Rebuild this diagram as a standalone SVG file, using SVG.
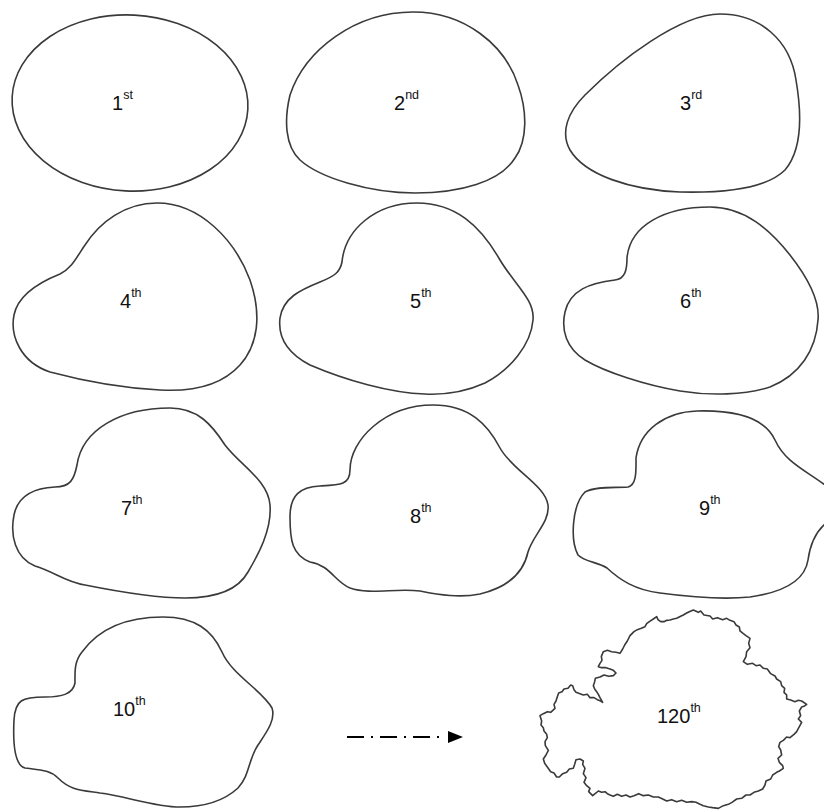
<svg xmlns="http://www.w3.org/2000/svg" width="824" height="811" viewBox="0 0 824 811">
  <style>
    .outline { fill: none; stroke: #3a3a3a; stroke-width: 1.6; stroke-linejoin: round; }
    .lbl { font-family: "Liberation Sans", "Open Sans", sans-serif; font-size: 20px; fill: #111; }
    .sup { font-size: 12.5px; }
    .flow { fill: none; stroke: #000; stroke-width: 2; stroke-dasharray: 17 7 2 7; }
  </style>
  <defs>
    <marker id="head" viewBox="0 0 10 10" refX="0" refY="5" markerWidth="15" markerHeight="12" markerUnits="userSpaceOnUse" orient="auto">
      <path d="M0,0 L10,5 L0,10 Z" fill="#000"/>
    </marker>
  </defs>
  <rect width="824" height="811" fill="#fff"/>

  <!-- iteration 1 -->
  <g id="n1">
    <ellipse class="outline" cx="130" cy="103" rx="118" ry="88" transform="rotate(3 130 103)"/>
    <text class="lbl" x="112" y="110">1<tspan class="sup" dy="-11">st</tspan></text>
  </g>

  <!-- iteration 2 -->
  <g id="n2">
    <path class="outline" d="M413,12 C465,12 505,45 518,85 C527,110 528,140 515,158 C500,182 460,193 415,193 C370,193 320,178 300,160 C285,146 284,120 290,95 C305,50 355,12 413,12 Z"/>
    <text class="lbl" x="394" y="110">2<tspan class="sup" dy="-11">nd</tspan></text>
  </g>

  <!-- iteration 3 -->
  <g id="n3">
    <path class="outline" d="M720,14 C760,14 790,40 796,80 C802,115 802,150 785,170 C765,190 720,193 680,192 C630,190 585,175 570,150 C560,132 568,112 585,95 C620,60 680,14 720,14 Z"/>
    <text class="lbl" x="680" y="110">3<tspan class="sup" dy="-11">rd</tspan></text>
  </g>

  <!-- iteration 4 -->
  <g id="n4">
    <path class="outline" d="M157,203 C200,203 235,240 250,280 C262,315 258,345 240,365 C222,385 195,392 160,390 C120,388 80,380 50,372 C20,362 10,335 14,315 C18,295 40,282 60,274 C72,268 76,258 85,245 C100,222 125,203 157,203 Z"/>
    <text class="lbl" x="120" y="308">4<tspan class="sup" dy="-11">th</tspan></text>
  </g>

  <!-- iteration 5 -->
  <g id="n5">
    <path class="outline" d="M417,203 C455,203 480,225 500,260 C515,285 535,300 533,320 C531,345 510,370 485,383 C465,392 445,395 425,394 C390,393 345,380 310,365 C285,352 278,335 280,318 C283,298 300,290 320,282 C335,276 340,272 342,262 C345,230 375,203 417,203 Z"/>
    <text class="lbl" x="410" y="308">5<tspan class="sup" dy="-11">th</tspan></text>
  </g>

  <!-- iteration 6 -->
  <g id="n6">
    <path class="outline" d="M710,207 C745,207 770,230 790,255 C808,278 820,300 818,320 C816,350 800,375 770,387 C745,395 710,396 680,391 C645,385 605,372 585,360 C566,348 561,330 565,312 C570,290 590,283 615,280 C625,279 627,270 627,258 C630,225 665,207 710,207 Z"/>
    <text class="lbl" x="680" y="308">6<tspan class="sup" dy="-11">th</tspan></text>
  </g>

  <!-- iteration 7 -->
  <g id="n7">
    <path class="outline" d="M170,408 C198,408 212,425 225,445 C240,465 268,480 270,505 C272,530 258,555 248,572 C238,590 215,598 185,598 C150,598 110,590 85,585 C65,582 55,572 35,566 C15,558 10,535 14,515 C18,495 35,488 55,487 C70,487 74,480 77,465 C82,430 120,408 170,408 Z"/>
    <text class="lbl" x="121" y="515">7<tspan class="sup" dy="-11">th</tspan></text>
  </g>

  <!-- iteration 8 -->
  <g id="n8">
    <path class="outline" d="M433,405 C470,405 488,425 500,448 C512,470 545,485 548,505 C550,522 533,535 528,552 C523,575 505,588 480,594 C460,598 440,595 420,591 C395,588 370,595 350,588 C335,582 330,565 310,562 C292,555 290,540 290,517 C290,495 300,487 320,486 C340,485 350,485 350,470 C350,440 385,405 433,405 Z"/>
    <text class="lbl" x="410" y="523">8<tspan class="sup" dy="-11">th</tspan></text>
  </g>

  <!-- iteration 9 (runs past the right edge) -->
  <g id="n9">
    <path class="outline" d="M697,411 C735,410 765,418 775,440 C785,462 805,470 825,485 L840,500 L830,520 C815,530 810,545 808,560 C805,580 785,592 750,597 C720,600 690,597 660,593 C635,590 620,580 607,568 C598,562 585,562 578,555 C570,540 572,505 585,492 C595,486 615,488 628,487 C637,485 636,470 636,458 C640,430 665,412 697,411 Z"/>
    <text class="lbl" x="699" y="515">9<tspan class="sup" dy="-11">th</tspan></text>
  </g>

  <!-- iteration 10 -->
  <g id="n10">
    <path class="outline" d="M163,617 C195,617 212,630 222,652 C232,675 262,690 272,708 C276,720 266,733 258,745 C248,760 250,775 238,788 C225,800 205,807 180,807 C155,807 125,796 100,793 C80,790 70,790 58,778 C50,770 40,770 25,768 C14,765 13,740 14,720 C15,700 22,697 45,697 C62,697 73,694 75,683 C75,672 74,662 82,652 C100,627 130,617 163,617 Z"/>
    <text class="lbl" x="113" y="716">10<tspan class="sup" dy="-11">th</tspan></text>
  </g>

  <!-- iteration 120: rough, crinkled boundary -->
  <g id="n120">
    <path class="outline" vector-effect="non-scaling-stroke" transform="translate(530 595) scale(0.33333)" d="M490,45 L505,52 512,48 522,60 540,63 548,72 562,68 578,74 590,70 600,76 612,80 618,90 628,96 630,108 640,116 648,122 660,130 656,145 660,158 650,170 648,185 640,200 652,208 668,205 678,212 690,210 700,220 712,222 722,236 735,243 740,252 752,260 755,272 764,280 762,292 770,300 770,312 782,315 795,320 805,316 815,318 830,328 822,334 815,336 808,348 812,362 805,372 815,382 808,395 800,410 792,418 780,428 770,426 760,436 750,442 746,455 752,465 755,480 744,490 748,502 758,512 760,520 748,528 740,532 728,540 722,552 708,558 705,570 698,582 685,588 672,592 660,600 648,600 635,610 620,612 606,622 595,628 580,632 565,640 548,638 535,636 520,632 510,628 498,622 485,620 470,622 455,616 440,620 425,614 410,618 398,612 385,606 370,606 355,600 340,602 326,596 312,602 300,606 288,600 275,604 262,598 250,604 240,600 232,596 225,590 215,592 205,588 198,594 188,602 182,596 176,590 180,580 170,572 162,562 168,548 160,536 165,520 158,508 160,498 150,492 138,494 134,508 130,520 118,522 110,532 98,536 88,546 80,546 72,534 62,530 52,516 44,505 40,492 48,480 55,466 46,452 45,440 52,428 50,418 42,408 40,398 33,390 35,378 30,362 40,356 52,350 62,352 75,340 72,328 78,318 82,305 86,294 96,290 102,282 114,280 122,270 128,272 132,284 138,292 150,296 160,300 172,298 180,308 192,308 202,314 212,318 218,322 210,308 205,298 200,290 194,282 190,272 194,260 196,250 210,246 222,240 236,244 250,242 258,234 250,226 240,222 228,218 215,218 205,215 210,205 216,196 214,184 220,170 232,166 245,170 258,172 270,175 278,162 284,150 292,138 300,122 312,110 322,104 334,100 345,95 350,86 358,80 370,72 380,65 384,74 392,80 402,80 410,76 420,75 430,72 440,70 452,64 460,60 470,54 478,50 Z"/>
    <text class="lbl" x="657" y="723">120<tspan class="sup" dy="-11">th</tspan></text>
  </g>

  <!-- connectors -->
  <g id="connectors">
    <path class="flow" d="M347,737 L442,737"/>
    <path d="M448,731 L463,737 L448,743 Z" fill="#000"/>
  </g>
</svg>
